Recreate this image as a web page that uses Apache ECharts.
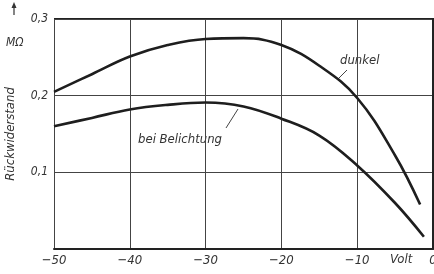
<!DOCTYPE html>
<html><head><meta charset="utf-8">
<script src="https://cdn.jsdelivr.net/npm/echarts@6/dist/echarts.min.js"></script>
<style>html,body{margin:0;padding:0;background:#fff}#c{width:434px;height:274px}</style>
</head><body><div id="c"></div>
<script>
const xTicks = [-50, -40, -30, -20, -10, 0];
const yTicks = [0, 0.1, 0.2, 0.3];
const dunkelV = [-50, -45, -40, -35, -30, -25, -20, -15, -10, -5, -1.7];
const dunkelR = [0.205, 0.228, 0.251, 0.266, 0.274, 0.275, 0.266, 0.239, 0.197, 0.122, 0.058];
const belV = [-50, -45, -40, -35, -30, -25, -20, -15, -10, -5, -1.2];
const belR = [0.160, 0.171, 0.182, 0.188, 0.191, 0.186, 0.170, 0.148, 0.109, 0.060, 0.016];

const FONT = "'Liberation Sans Narrow','DejaVu Sans Condensed','Liberation Sans',sans-serif";
const TXT = '#333';
const chart = echarts.init(document.getElementById('c'), null, {renderer: 'canvas'});
const pair = (xs, ys) => xs.map((x, i) => [x, ys[i]]);
chart.setOption({
  animation: false,
  backgroundColor: '#fff',
  grid: {left: 54, right: 1, top: 19, bottom: 25, containLabel: false, outerBoundsMode: 'none'},
  xAxis: {
    type: 'value', min: -50, max: 0, interval: 10,
    axisLine: {show: true, onZero: false, lineStyle: {color: '#222', width: 2}},
    axisTick: {show: false},
    splitLine: {show: true, lineStyle: {color: '#444', width: 1}},
    axisLabel: {
      color: TXT, fontFamily: FONT, fontStyle: 'italic', fontSize: 13, margin: 5,
      formatter: v => xTicks.includes(v) ? (v < 0 ? '\u2212' + Math.abs(v) : String(v)) : ''
    }
  },
  yAxis: {
    type: 'value', min: 0, max: 0.3, interval: 0.1,
    name: 'Rückwiderstand', nameLocation: 'middle', nameRotate: 90, nameGap: 37,
    nameTextStyle: {color: TXT, fontFamily: FONT, fontStyle: 'italic', fontSize: 13},
    axisLine: {show: true, lineStyle: {color: '#222', width: 2}},
    axisTick: {show: false},
    splitLine: {show: true, lineStyle: {color: '#444', width: 1}},
    axisLabel: {
      color: TXT, fontFamily: FONT, fontStyle: 'italic', fontSize: 12, margin: 6,
      formatter: v => { const t = yTicks.find(k => Math.abs(k - v) < 1e-9); return (t === undefined || t === 0) ? '' : t.toFixed(1).replace('.', ','); }
    }
  },
  series: [
    {type: 'line', name: 'dunkel', data: pair(dunkelV, dunkelR), smooth: 0.4, showSymbol: false,
     lineStyle: {color: '#1e1e1e', width: 2.6}},
    {type: 'line', name: 'bei Belichtung', data: pair(belV, belR), smooth: 0.4, showSymbol: false,
     lineStyle: {color: '#1e1e1e', width: 2.6}}
  ],
  graphic: [
    {type: 'line', shape: {x1: 54, y1: 19, x2: 434, y2: 19}, style: {stroke: '#222', lineWidth: 2}},
    {type: 'line', shape: {x1: 14, y1: 5, x2: 14, y2: 15}, style: {stroke: '#333', lineWidth: 1.2}},
    {type: 'polygon', shape: {points: [[11.5, 8], [14, 2], [16.5, 8]]}, style: {fill: '#333'}},
    {type: 'text', left: 6, top: 37, style: {text: 'MΩ', fill: TXT, font: 'italic 12px ' + FONT}},
    {type: 'text', left: 340, top: 54, style: {text: 'dunkel', fill: TXT, font: 'italic 13px ' + FONT}},
    {type: 'line', shape: {x1: 347, y1: 70, x2: 338, y2: 79}, style: {stroke: '#444', lineWidth: 1}},
    {type: 'text', left: 138, top: 133, style: {text: 'bei Belichtung', fill: TXT, font: 'italic 13px ' + FONT}},
    {type: 'line', shape: {x1: 238, y1: 109, x2: 226, y2: 128}, style: {stroke: '#444', lineWidth: 1}},
    {type: 'text', left: 390, top: 253, style: {text: 'Volt', fill: TXT, font: 'italic 13px ' + FONT}}
  ]
});
</script></body></html>
